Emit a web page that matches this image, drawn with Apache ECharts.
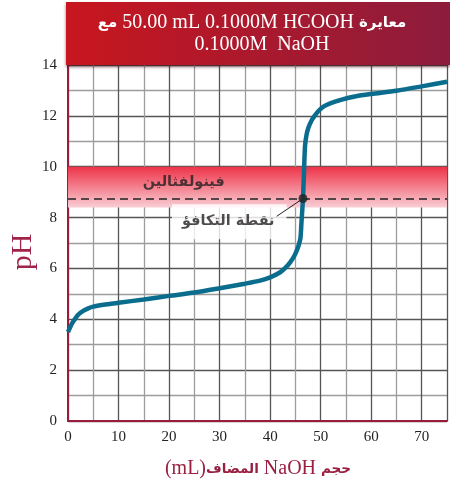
<!DOCTYPE html>
<html>
<head>
<meta charset="utf-8">
<script src="https://cdn.jsdelivr.net/npm/echarts@6/dist/echarts.min.js"></script>
<style>
html,body{margin:0;padding:0;background:#fff;}
#chart{width:450px;height:483px;}
</style>
</head>
<body>
<div id="chart"></div>
<script>
// ---- data ----
const volumeNaOH = [0, 0.5, 1, 2, 3, 4, 5, 7, 10, 15, 20, 25, 30, 35, 38, 40, 42, 43, 44, 44.8, 45.3, 45.7, 46.0, 46.2, 46.5, 46.7, 46.9, 47.2, 47.6, 48.2, 48.8, 49.7, 50.7, 52, 54, 57, 60, 65, 70, 75];
const pHValues   = [3.5, 3.72, 3.9, 4.18, 4.33, 4.43, 4.5, 4.57, 4.65, 4.78, 4.92, 5.05, 5.22, 5.4, 5.52, 5.65, 5.85, 6.02, 6.25, 6.5, 6.72, 6.95, 7.2, 7.8, 8.75, 9.8, 10.8, 11.25, 11.55, 11.82, 12.0, 12.22, 12.38, 12.5, 12.63, 12.77, 12.86, 12.99, 13.16, 13.34];
const indicatorBand = [8.4, 10];          // phenolphthalein range (pH)
const equivalencePoint = [46.5, 8.75];     // [mL, pH]
const leaderStart = [41.3, 8.05];          // end of pointer line near the label
const eqLabelAt = [31.9, 7.84];
const bandLabelAt = [22.9, 9.4];
const xTickLabels = ['0','10','20','30','40','50','60','70'];
const yTickLabels = ['0','2','4','6','8','10','12','14'];
const titleLine1 = {ar1: 'مع', latin: '50.00 mL 0.1000M HCOOH', ar2: 'معايرة'};
const titleLine2 = '0.1000M  NaOH';
const bandLabel = 'فينولفثالين';
const eqLabel = 'نقطة التكافؤ';
const xNameParts = {unit: '(mL)', ar1: 'المضاف', latin: 'NaOH', ar2: 'حجم'};
const yName = 'pH';

// ---- chart ----
const chart = echarts.init(document.getElementById('chart'), null, {renderer: 'canvas'});
const serif = '"Liberation Serif", "DejaVu Serif", serif';
const arab = '"DejaVu Sans", sans-serif';
const axisRed = '#9a1b3b';

const curve = volumeNaOH.map((v, i) => [v, pHValues[i]]);

const option = {
  animation: false,
  backgroundColor: '#fff',
  grid: {left: 68, right: 0, top: 65, bottom: 62, containLabel: false},
  xAxis: {
    type: 'value', min: 0, max: 75, interval: 10,
    axisLine: {show: true, onZero: false, lineStyle: {color: axisRed, width: 2}},
    axisTick: {show: false},
    axisLabel: {
      color: '#222', fontFamily: serif, fontSize: 15, margin: 9,
      formatter: v => xTickLabels.includes(String(v)) ? String(v) : ''
    },
    splitLine: {show: true, lineStyle: {color: '#555', width: 1.3}},
    minorTick: {show: false, splitNumber: 2},
    minorSplitLine: {show: true, lineStyle: {color: '#9c9c9c', width: 1.3}}
  },
  yAxis: {
    type: 'value', min: 0, max: 14, interval: 2,
    axisLine: {show: true, onZero: false, lineStyle: {color: axisRed, width: 2}},
    axisTick: {show: false},
    axisLabel: {
      color: '#222', fontFamily: serif, fontSize: 15, margin: 11,
      formatter: v => yTickLabels.includes(String(v)) ? String(v) : ''
    },
    splitLine: {show: true, lineStyle: {color: '#555', width: 1.3}},
    minorTick: {show: false, splitNumber: 2},
    minorSplitLine: {show: true, lineStyle: {color: '#9c9c9c', width: 1.3}}
  },
  series: [
    {
      name: 'band', type: 'line', data: [], z: 1, silent: true,
      markArea: {
        silent: true,
        itemStyle: {
          opacity: 1,
          color: new echarts.graphic.LinearGradient(0, 0, 0, 1, [
            {offset: 0, color: '#ee3348'},
            {offset: 1, color: '#f9cdd4'}
          ])
        },
        label: {show: false},
        data: [[{yAxis: indicatorBand[1]}, {yAxis: indicatorBand[0]}]]
      },
      markLine: {
        silent: true, symbol: ['none', 'none'],
        lineStyle: {color: '#222', type: [8, 5], width: 1.5},
        label: {show: false},
        data: [{yAxis: equivalencePoint[1]}]
      }
    },
    {
      name: 'labels', type: 'scatter', z: 6, silent: true, symbolSize: 0,
      data: [
        {value: bandLabelAt, label: {show: true, position: 'inside', formatter: bandLabel,
          fontFamily: arab, fontWeight: 'bold', fontSize: 14.5, color: '#231f20'}},
        {value: eqLabelAt, label: {show: true, position: 'inside', formatter: eqLabel,
          fontFamily: arab, fontWeight: 'bold', fontSize: 14.5, color: '#231f20',
          backgroundColor: '#fff', padding: [9, 12, 11, 10]}}
      ]
    },
    {
      name: 'leader', type: 'line', z: 7, silent: true, showSymbol: false,
      lineStyle: {color: '#222', width: 1},
      data: [leaderStart, equivalencePoint]
    },
    {
      name: 'titration', type: 'line', z: 8, silent: true, showSymbol: false,
      smooth: 0.25,
      lineStyle: {color: '#0b6d8d', width: 4.5},
      data: curve
    },
    {
      name: 'eq', type: 'scatter', z: 9, silent: true, symbolSize: 9,
      itemStyle: {color: '#222'},
      data: [equivalencePoint]
    }
  ],
  graphic: [
    {
      type: 'rect', z: 100, silent: true,
      shape: {x: 66, y: 2, width: 384, height: 63},
      style: {
        fill: new echarts.graphic.LinearGradient(0, 0, 1, 0, [
          {offset: 0, color: '#c8161f'},
          {offset: 1, color: '#8c1c3c'}
        ]),
        shadowBlur: 3, shadowOffsetY: 2, shadowColor: 'rgba(60,0,10,0.55)'
      }
    },
    {
      type: 'text', z: 101, silent: true, x: 252, y: 23,
      style: {
        text: '{ar|' + titleLine1.ar1 + '} {la|' + titleLine1.latin + '} {ar|' + titleLine1.ar2 + '}',
        align: 'center', verticalAlign: 'middle', fill: '#fff',
        font: '20px ' + serif,
        rich: {
          ar: {fontFamily: arab, fontWeight: 'bold', fontSize: 15, fill: '#fff', color: '#fff'},
          la: {fontFamily: serif, fontSize: 20, fill: '#fff', color: '#fff'}
        }
      }
    },
    {
      type: 'text', z: 101, silent: true, x: 262, y: 45,
      style: {
        text: titleLine2, align: 'center', verticalAlign: 'middle',
        fill: '#fff', font: '20px ' + serif
      }
    },
    {
      type: 'text', z: 101, silent: true, x: 258, y: 469,
      style: {
        text: '{la|' + xNameParts.unit + '}{ar|' + xNameParts.ar1 + '} {la|' + xNameParts.latin + '} {ar|' + xNameParts.ar2 + '}',
        align: 'center', verticalAlign: 'middle', fill: '#9a2042',
        font: '20px ' + serif,
        rich: {
          ar: {fontFamily: arab, fontWeight: 'bold', fontSize: 13.5, fill: '#9a2042', color: '#9a2042'},
          la: {fontFamily: serif, fontSize: 20, fill: '#9a2042', color: '#9a2042'}
        }
      }
    },
    {
      type: 'text', z: 101, silent: true, x: 23, y: 252, rotation: Math.PI / 2,
      style: {
        text: yName, align: 'center', verticalAlign: 'middle',
        fill: '#a0244a', font: '30px ' + serif
      }
    }
  ]
};
chart.setOption(option);
</script>
</body>
</html>
